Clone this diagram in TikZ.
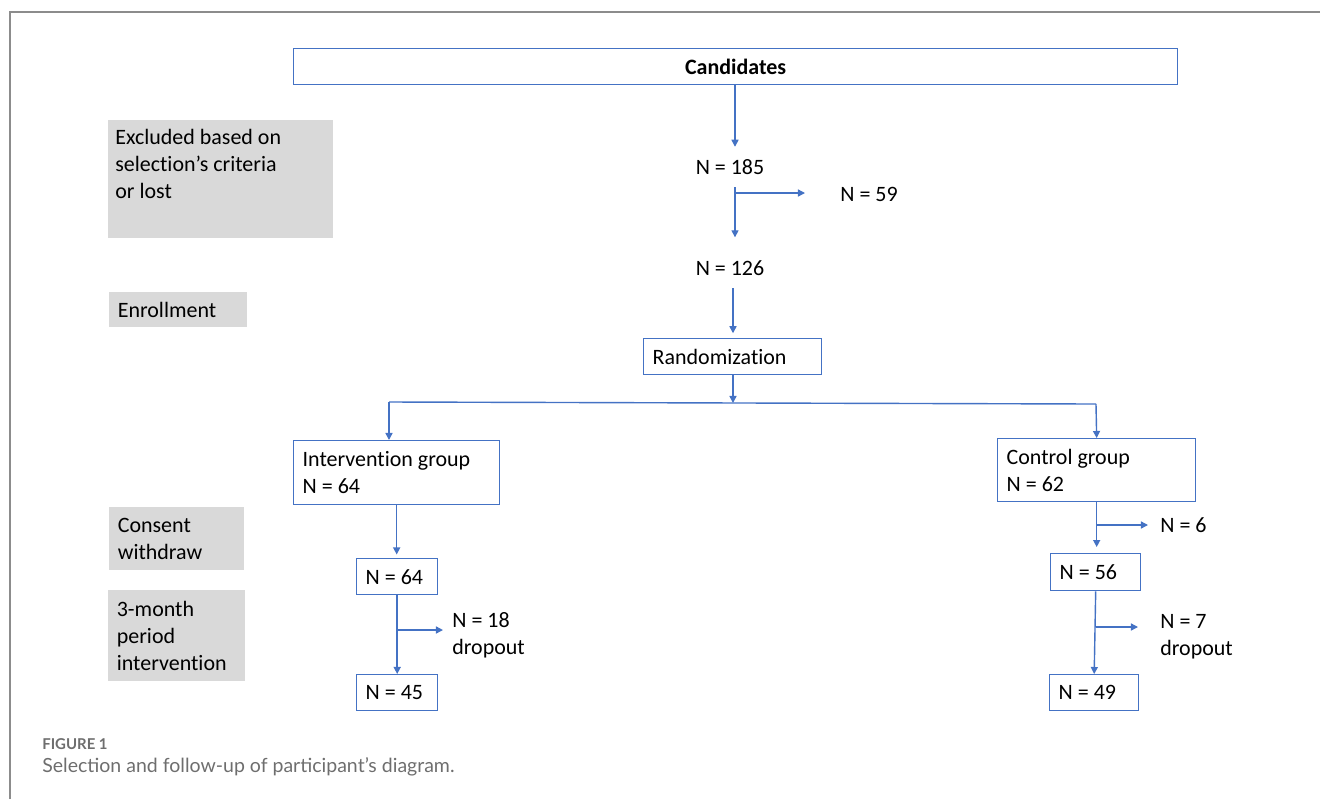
\documentclass[tikz,border=0pt]{standalone}
\usepackage{fontspec}
\setmainfont{Carlito}[Ligatures=NoCommon]
\newfontfamily\capfont{Lato}
\usetikzlibrary{positioning,arrows.meta}
\definecolor{flowBlue}{HTML}{4472C4}
\definecolor{noteGray}{HTML}{D9D9D9}
\definecolor{frameGray}{HTML}{8C8C8C}
\definecolor{capGray}{HTML}{6E6E6E}
\tikzset{flowArrow/.style={
    -{Triangle[length=4pt,width=4pt]},
    color=flowBlue,
    line width=0.8pt}
}
\tikzset{flowLine/.style={color=flowBlue, line width=0.8pt}}
\tikzset{flowBox/.style={
    draw=flowBlue,
    line width=0.8pt,
    anchor=north west,
    align=flush left,
    inner xsep=0.18cm,
    inner ysep=0pt}
}
\tikzset{noteBox/.style={
    fill=noteGray,
    anchor=north west,
    align=flush left,
    inner xsep=0.17cm,
    inner ysep=0pt}
}
\tikzset{countText/.style={inner sep=2pt}}

\begin{document}
\begin{tikzpicture}[x=0.02cm,y=-0.02cm,font=\fontsize{12.5}{15.4}\selectfont]
      \useasboundingbox (0,0) rectangle (1320,799);
      % frame of the figure
      \draw[frameGray,line width=1.1pt] (10,799) -- (10,12) -- (1320,12);

      % stage labels
      \node[noteBox,inner xsep=0.14cm,inner ysep=0.18cm,text width=4.22cm]
      (excl) at (108,120)
      {\parbox[t][2.0cm][t]{4.22cm}{\raggedright Excluded based on\\selection’s criteria\\or lost}};
      \node[noteBox,text width=2.42cm,minimum height=0.7cm]
      (enroll) at (109,292) {Enrollment};
      \node[noteBox,text width=2.36cm,minimum height=1.26cm]
      (consent) at (109,507) {Consent\\withdraw};
      \node[noteBox,text width=2.4cm,minimum height=1.82cm]
      (period) at (108,590) {3-month\\period\\intervention};

      % flow boxes
      \node[flowBox,align=center,text width=17.32cm,minimum height=0.72cm]
      (cand) at (293,48) {\textbf{Candidates}};
      \node[flowBox,text width=3.2cm,minimum height=0.72cm]
      (rand) at (643,338) {Randomization};
      \node[flowBox,text width=3.76cm,minimum height=1.28cm]
      (interv) at (293,440) {Intervention group\\N = 64};
      \node[flowBox,text width=3.6cm,minimum height=1.26cm]
      (ctrl) at (997,438) {Control group\\N = 62};
      \node[flowBox,text width=1.26cm,minimum height=0.72cm]
      (n64) at (356,558) {N = 64};
      \node[flowBox,text width=1.26cm,minimum height=0.72cm]
      (n45) at (356,674) {N = 45};
      \node[flowBox,text width=1.44cm,minimum height=0.74cm]
      (n56) at (1050,553) {N = 56};
      \node[flowBox,text width=1.42cm,minimum height=0.72cm]
      (n49) at (1049,674) {N = 49};

      % counts
      \node[countText] (n185) at (730,167) {N = 185};
      \node[countText] (n59) at (869,194) {N = 59};
      \node[countText] (n126) at (730,268) {N = 126};
      \node[countText,anchor=west,align=flush left,inner sep=0pt] (n18) at (452,635) {N = 18\\dropout};
      \node[countText,anchor=west,inner sep=0pt] (n6) at (1160,525) {N = 6};
      \node[countText,anchor=west,align=flush left,inner sep=0pt] (n7) at (1160,637) {N = 7\\dropout};

      % connectors
      \coordinate (spine) at (735,0);
      \coordinate (spineB) at (733,0);
      \draw[flowArrow,shorten >=5pt] (cand.south -| spine) -- (n185.north -| spine);
      \draw[flowArrow,shorten <=5pt,shorten >=11pt] (n185.south -| spine) -- (n126.north -| spine);
      \coordinate (cut59) at (805,193);
      \draw[flowArrow] (cut59 -| spine) -- (cut59);
      \draw[flowArrow,shorten <=5pt,shorten >=2.7pt] (n126.south -| spineB) -- (rand.north -| spineB);

      \coordinate (split) at (733,403);
      \coordinate (splitL) at (389,402);
      \coordinate (splitR) at (1096,404);
      \draw[flowArrow] (rand.south -| spineB) -- (split);
      \draw[flowLine] (splitL) -- (splitR);
      \draw[flowArrow] (splitL) -- (splitL |- interv.north);
      \draw[flowArrow] (splitR) -- (ctrl.north);

      \draw[flowArrow,shorten >=2pt] (interv.south) -- (n64.north -| interv.south);
      \draw[flowArrow] (n64.south) -- (n45.north);
      \coordinate (cut18) at (443,630);
      \draw[flowArrow] (cut18 -| n64.south) -- (cut18);

      \draw[flowArrow,shorten >=3.4pt] (ctrl.south) -- (n56.north -| ctrl.south);
      \coordinate (cut6) at (1148,525);
      \draw[flowArrow] (cut6 -| ctrl.south) -- (cut6);
      \draw[flowArrow] (n56.south) -- (n49.north);
      \coordinate (cut7) at (1138,627);
      \draw[flowArrow] (cut7 -| n56.south) -- (cut7);

      % caption
      \node[anchor=west,inner sep=0pt,text=capGray,font=\capfont\bfseries\fontsize{8.5}{10}\selectfont]
      (figno) at (42,744) {FIGURE 1};
      \node[anchor=west,inner sep=0pt,text=capGray,font=\capfont\fontsize{11.1}{13}\selectfont]
      (caption) at (42,767) {Selection and follow-up of participant’s diagram.};
\end{tikzpicture}
\end{document}
